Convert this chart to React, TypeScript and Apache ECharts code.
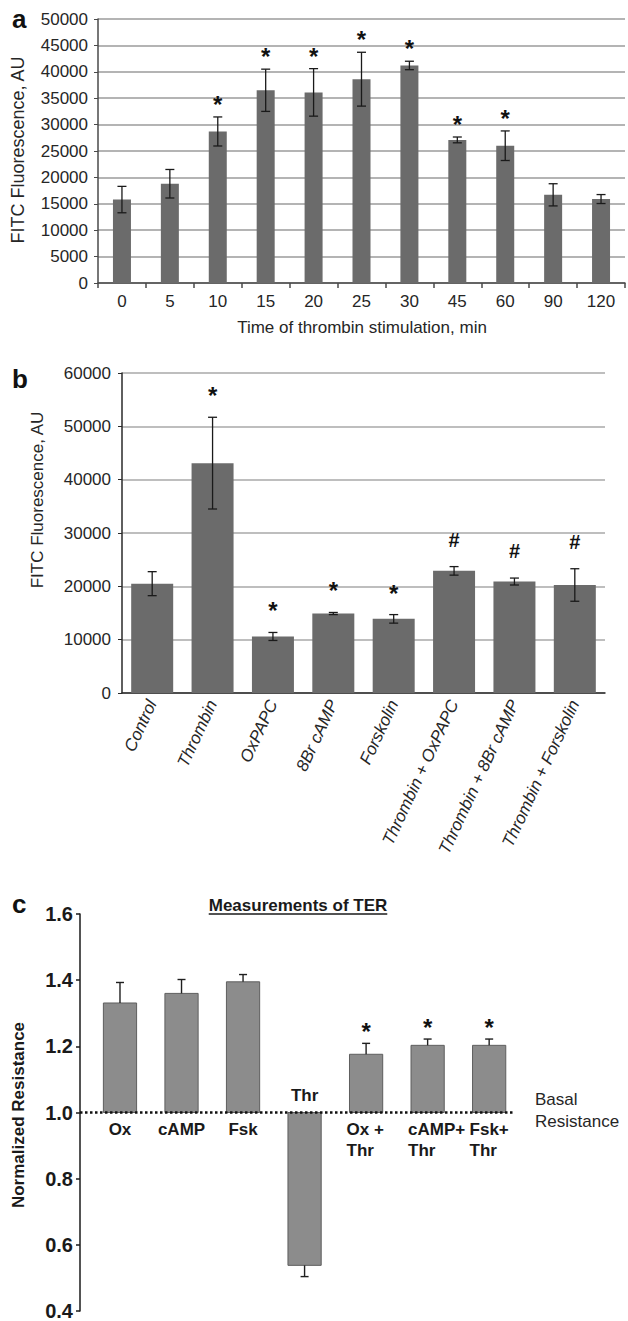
import React, { useEffect, useRef } from "react";
import * as echarts from "echarts";

// ---- Panel a: time course ----
const timeCats = ["0", "5", "10", "15", "20", "25", "30", "45", "60", "90", "120"];
const timeMeans = [15800, 18800, 28700, 36500, 36100, 38600, 41200, 27100, 26000, 16700, 15900];
const timeErrs = [2500, 2700, 2750, 4000, 4500, 5100, 800, 550, 2800, 2100, 850];
const timeMarks = ["", "", "*", "*", "*", "*", "*", "*", "*", "", ""];

// ---- Panel b: treatments ----
const treatCats = [
  "Control",
  "Thrombin",
  "OxPAPC",
  "8Br cAMP",
  "Forskolin",
  "Thrombin + OxPAPC",
  "Thrombin + 8Br cAMP",
  "Thrombin + Forskolin",
];
const treatMeans = [20500, 43100, 10600, 14900, 13900, 22900, 20900, 20250];
const treatErrs = [2250, 8600, 750, 200, 800, 800, 650, 3050];
const treatMarks = ["", "*", "*", "*", "*", "#", "#", "#"];

// ---- Panel c: TER ----
const terCats = ["Ox", "cAMP", "Fsk", "Thr", "Ox +\nThr", "cAMP+\nThr", "Fsk+\nThr"];
const terMeans = [1.331, 1.36, 1.395, 0.538, 1.176, 1.203, 1.203];
const terErrs = [0.062, 0.042, 0.022, 0.034, 0.033, 0.019, 0.019];
const terMarks = ["", "", "", "", "*", "*", "*"];
const basal = 1.0;

const FONT = '"Liberation Sans", Arial, sans-serif';
const TEXT = "#262626";

function markShift(mark: string, fs: number) {
  return mark === "*" ? 0.23 * fs : 0;
}

function errRender(means: number[], errs: number[], marks: string[], gap: number) {
  return (params: any, api: any) => {
    const i = params.dataIndex;
    const m = means[i];
    const e = errs[i];
    const top = api.coord([i, m + e]);
    const bot = api.coord([i, m - e]);
    const x = top[0];
    const cap = 4.5;
    const st = { stroke: "#1a1a1a", lineWidth: 1.3 };
    const children: any[] = [
      { type: "line", shape: { x1: x, y1: top[1], x2: x, y2: bot[1] }, style: st },
      { type: "line", shape: { x1: x - cap, y1: top[1], x2: x + cap, y2: top[1] }, style: st },
      { type: "line", shape: { x1: x - cap, y1: bot[1], x2: x + cap, y2: bot[1] }, style: st },
    ];
    const mk = marks[i];
    if (mk) {
      const fs = mk === "*" ? 24 : 20;
      children.push({
        type: "text",
        x,
        y: top[1] - gap + markShift(mk, fs),
        style: {
          text: mk,
          fontSize: fs,
          fontWeight: "bold",
          fontFamily: FONT,
          fill: "#111",
          align: "center",
          verticalAlign: "middle",
        },
      });
    }
    return { type: "group", children };
  };
}

function terRender(params: any, api: any) {
  const i = params.dataIndex;
  const v = terMeans[i];
  const e = terErrs[i];
  const base = api.coord([i, basal]);
  const top = api.coord([i, v]);
  const up = v >= basal;
  const whisk = api.coord([i, up ? v + e : v - e]);
  const w = api.size([1, 0])[0] * 0.54;
  const x = base[0];
  const st = { stroke: "#1f1f1f", lineWidth: 1.4 };
  const children: any[] = [
    {
      type: "rect",
      shape: { x: x - w / 2, y: Math.min(base[1], top[1]), width: w, height: Math.abs(top[1] - base[1]) },
      style: { fill: "#8c8c8c", stroke: "#5e5e5e", lineWidth: 1 },
    },
    { type: "line", shape: { x1: x, y1: top[1], x2: x, y2: whisk[1] }, style: st },
    { type: "line", shape: { x1: x - 4, y1: whisk[1], x2: x + 4, y2: whisk[1] }, style: st },
  ];
  const label = terCats[i];
  const multi = label.indexOf("\n") >= 0;
  children.push({
    type: "text",
    x: multi ? x - w / 2 - 3 : x,
    y: up ? base[1] + 6 : base[1] - 7,
    style: {
      text: label,
      fontSize: 17,
      fontWeight: "bold",
      fontFamily: FONT,
      fill: "#1a1a1a",
      lineHeight: 21,
      align: multi ? "left" : "center",
      verticalAlign: up ? "top" : "bottom",
    },
  });
  const mk = terMarks[i];
  if (mk) {
    children.push({
      type: "text",
      x,
      y: whisk[1] - 17 + markShift(mk, 24),
      style: {
        text: mk,
        fontSize: 24,
        fontWeight: "bold",
        fontFamily: FONT,
        fill: "#111",
        align: "center",
        verticalAlign: "middle",
      },
    });
  }
  return { type: "group", children };
}

export default function App() {
  const ref = useRef<HTMLDivElement>(null);

  useEffect(() => {
    if (!ref.current) return;
    const chart = echarts.init(ref.current, null, { renderer: "svg" });

    const title = "Measurements of TER";
    const titleFont = 17;
    let titleW = 186;
    try {
      const ctx = document.createElement("canvas").getContext("2d");
      if (ctx) {
        ctx.font = `bold ${titleFont}px ${FONT}`;
        titleW = ctx.measureText(title).width;
      }
    } catch (err) {}
    const titleX = 298;
    const titleY = 905;

    const plain = (v: number) => String(Math.round(v));
    const tickLabel = { fontFamily: FONT, fontSize: 17, color: TEXT };

    const option: any = {
      animation: false,
      backgroundColor: "#ffffff",
      grid: [
        { left: 98, top: 19, width: 527, height: 264 },
        { left: 122, top: 373, width: 483, height: 320 },
        { left: 80, top: 914, width: 435, height: 402 },
      ],
      xAxis: [
        {
          gridIndex: 0,
          type: "category",
          data: timeCats,
          axisLine: { lineStyle: { color: "#4a4a4a", width: 1.5 } },
          axisTick: { show: true, length: 5, lineStyle: { color: "#4a4a4a", width: 1.5 } },
          axisLabel: { ...tickLabel, margin: 10 },
        },
        {
          gridIndex: 1,
          type: "category",
          data: treatCats,
          axisLine: { lineStyle: { color: "#2a2a2a", width: 1.5 } },
          axisTick: { show: false },
          axisLabel: { ...tickLabel, fontStyle: "italic", rotate: 65, margin: 8, interval: 0 },
        },
        {
          gridIndex: 2,
          type: "value",
          min: -0.65,
          max: 6.42,
          show: false,
          splitLine: { show: false },
        },
      ],
      yAxis: [
        {
          gridIndex: 0,
          type: "value",
          min: 0,
          max: 50000,
          interval: 5000,
          axisLine: { show: true, lineStyle: { color: "#4a4a4a", width: 1.5 } },
          axisTick: { show: true, length: 4, lineStyle: { color: "#4a4a4a" } },
          axisLabel: { ...tickLabel, margin: 10, formatter: plain },
          splitLine: { lineStyle: { color: "#b4b4b4", width: 1.8 } },
        },
        {
          gridIndex: 1,
          type: "value",
          min: 0,
          max: 60000,
          interval: 10000,
          axisLine: { show: true, lineStyle: { color: "#2a2a2a", width: 1.5 } },
          axisTick: { show: true, length: 4, lineStyle: { color: "#2a2a2a" } },
          axisLabel: { ...tickLabel, margin: 11, formatter: plain },
          splitLine: { lineStyle: { color: "#a8a8a8", width: 1.5 } },
        },
        {
          gridIndex: 2,
          type: "value",
          min: 0.4,
          max: 1.6,
          interval: 0.2,
          axisLine: { show: true, onZero: false, lineStyle: { color: "#1a1a1a", width: 1.5 } },
          axisTick: { show: true, length: 4, lineStyle: { color: "#1a1a1a", width: 1.5 } },
          axisLabel: {
            fontFamily: FONT,
            fontSize: 20,
            fontWeight: "bold",
            color: "#1a1a1a",
            margin: 7,
            formatter: (v: number) => v.toFixed(1),
          },
          splitLine: { show: false },
        },
      ],
      series: [
        {
          type: "bar",
          xAxisIndex: 0,
          yAxisIndex: 0,
          data: timeMeans,
          barWidth: 18,
          itemStyle: { color: "#6b6b6b" },
          silent: true,
        },
        {
          type: "custom",
          xAxisIndex: 0,
          yAxisIndex: 0,
          data: timeMeans.map((m, i) => [i, m]),
          encode: { x: 0, y: 1 },
          renderItem: errRender(timeMeans, timeErrs, timeMarks, 18),
          z: 3,
          silent: true,
        },
        {
          type: "bar",
          xAxisIndex: 1,
          yAxisIndex: 1,
          data: treatMeans,
          barWidth: 42,
          itemStyle: { color: "#6b6b6b" },
          silent: true,
        },
        {
          type: "custom",
          xAxisIndex: 1,
          yAxisIndex: 1,
          data: treatMeans.map((m, i) => [i, m]),
          encode: { x: 0, y: 1 },
          renderItem: errRender(treatMeans, treatErrs, treatMarks, 27),
          z: 3,
          silent: true,
        },
        {
          type: "custom",
          xAxisIndex: 2,
          yAxisIndex: 2,
          data: terMeans.map((m, i) => [i, m]),
          encode: { x: 0, y: 1 },
          renderItem: terRender,
          silent: true,
          markLine: {
            silent: true,
            symbol: ["none", "none"],
            label: { show: false },
            lineStyle: { type: "dotted", color: "#111", width: 2.5 },
            data: [{ yAxis: basal }],
          },
        },
      ],
      graphic: [
        {
          type: "text",
          x: 12,
          y: 19,
          style: { text: "a", fontSize: 26, fontWeight: "bold", fontFamily: FONT, fill: "#111", verticalAlign: "middle" },
        },
        {
          type: "text",
          x: 12,
          y: 379,
          style: { text: "b", fontSize: 26, fontWeight: "bold", fontFamily: FONT, fill: "#111", verticalAlign: "middle" },
        },
        {
          type: "text",
          x: 12,
          y: 904,
          style: { text: "c", fontSize: 26, fontWeight: "bold", fontFamily: FONT, fill: "#111", verticalAlign: "middle" },
        },
        {
          type: "text",
          x: 18,
          y: 150,
          rotation: Math.PI / 2,
          style: {
            text: "FITC Fluorescence, AU",
            fontSize: 18,
            fontFamily: FONT,
            fill: TEXT,
            align: "center",
            verticalAlign: "middle",
          },
        },
        {
          type: "text",
          x: 362,
          y: 327,
          style: {
            text: "Time of thrombin stimulation, min",
            fontSize: 17,
            fontFamily: FONT,
            fill: TEXT,
            align: "center",
            verticalAlign: "middle",
          },
        },
        {
          type: "text",
          x: 37,
          y: 500,
          rotation: Math.PI / 2,
          style: {
            text: "FITC Fluorescence, AU",
            fontSize: 17,
            fontFamily: FONT,
            fill: TEXT,
            align: "center",
            verticalAlign: "middle",
          },
        },
        {
          type: "text",
          x: 18,
          y: 1115,
          rotation: Math.PI / 2,
          style: {
            text: "Normalized Resistance",
            fontSize: 17,
            fontWeight: "bold",
            fontFamily: FONT,
            fill: "#1a1a1a",
            align: "center",
            verticalAlign: "middle",
          },
        },
        {
          type: "text",
          x: titleX,
          y: titleY,
          style: {
            text: title,
            fontSize: titleFont,
            fontWeight: "bold",
            fontFamily: FONT,
            fill: "#1a1a1a",
            align: "center",
            verticalAlign: "middle",
          },
        },
        {
          type: "line",
          shape: { x1: titleX - titleW / 2, y1: titleY + 9, x2: titleX + titleW / 2, y2: titleY + 9 },
          style: { stroke: "#1a1a1a", lineWidth: 1.5 },
        },
        {
          type: "text",
          x: 535,
          y: 1110,
          style: {
            text: "Basal\nResistance",
            fontSize: 17,
            fontFamily: FONT,
            fill: TEXT,
            lineHeight: 22,
            align: "left",
            verticalAlign: "middle",
          },
        },
      ],
    };

    chart.setOption(option);
    return () => {
      chart.dispose();
    };
  }, []);

  return (
    <div
      ref={ref}
      style={{ position: "absolute", left: 0, top: 0, width: 628, height: 1321, background: "#fff" }}
    />
  );
}
